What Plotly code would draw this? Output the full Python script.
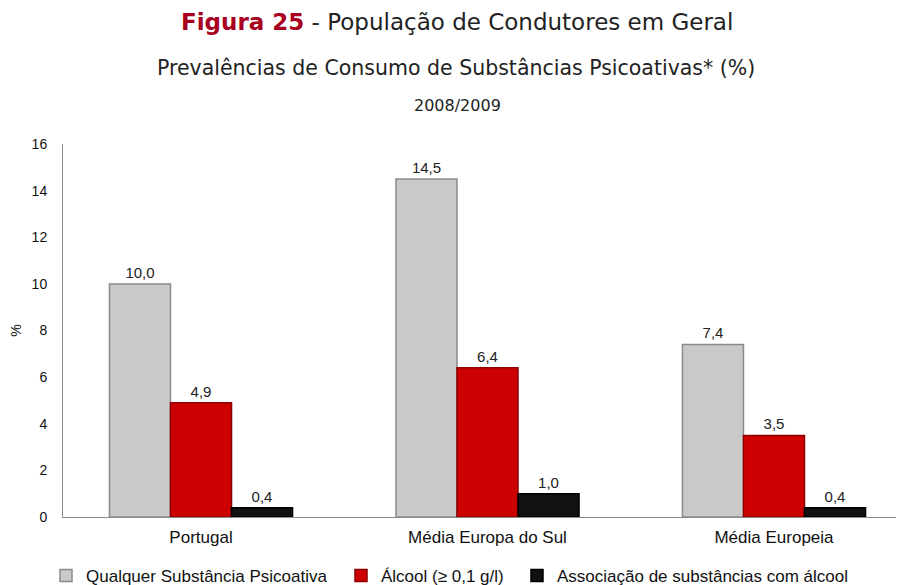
import plotly.graph_objects as go

categories = ["Portugal", "Média Europa do Sul", "Média Europeia"]
series_names = ["Qualquer Substância Psicoativa", "Álcool (≥ 0,1 g/l)", "Associação de substâncias com álcool"]
qualquer = [10.0, 14.5, 7.4]
alcool = [4.9, 6.4, 3.5]
associacao = [0.4, 1.0, 0.4]
y_ticks = [0, 2, 4, 6, 8, 10, 12, 14, 16]

# page body has an 8px margin: figure origin sits at screen (8, 8)
OFF = 8
W, H = 904 - OFF, 585 - OFF
L, R, T = 63 - OFF, 0, 144 - OFF
B = H - (517 - OFF)
pw = W - L - R
ph = H - T - B

def px_x(px):
    return (px - OFF - L) / pw

def px_y(py):
    return (H - B - (py - OFF)) / ph

fills = ["#c9c9c9", "#cc0000", "#111111"]
lines = ["#8a8a8a", "#8e0000", "#000000"]
values = [qualquer, alcool, associacao]
legend_ids = ["legend", "legend2", "legend3"]

fig = go.Figure()
for name, vals, fc, lc, lg in zip(series_names, values, fills, lines, legend_ids):
    fig.add_trace(go.Bar(
        x=categories, y=vals, name=name,
        marker=dict(color=fc, line=dict(color=lc, width=1.5)),
        texttemplate="%{y:.1f}", textposition="outside",
        textfont=dict(family="Liberation Sans, Arial", size=15, color="#222222"),
        cliponaxis=False, legend=lg,
    ))

font_title = "DejaVu Sans"
annotations = [
    dict(text="<b><span style='color:#a8001e'>Figura 25</span></b> - População de Condutores em Geral",
         x=px_x(457), y=px_y(22), xref="paper", yref="paper", showarrow=False,
         xanchor="center", yanchor="middle",
         font=dict(family=font_title, size=23, color="#222222")),
    dict(text="Prevalências de Consumo de Substâncias Psicoativas* (%)",
         x=px_x(456), y=px_y(68), xref="paper", yref="paper", showarrow=False,
         xanchor="center", yanchor="middle",
         font=dict(family=font_title, size=20.5, color="#222222")),
    dict(text="2008/2009",
         x=px_x(457), y=px_y(106), xref="paper", yref="paper", showarrow=False,
         xanchor="center", yanchor="middle",
         font=dict(family=font_title, size=16, color="#222222")),
]

leg_common = dict(orientation="h", yanchor="middle", xanchor="left",
                  bgcolor="rgba(0,0,0,0)", borderwidth=0,
                  font=dict(family="Liberation Sans, Arial", size=17, color="#111111"))
leg_y = px_y(576)

fig.update_layout(
    width=W, height=H,
    margin=dict(l=L, r=R, t=T, b=B, autoexpand=False),
    paper_bgcolor="white", plot_bgcolor="white",
    separators=",.",
    barmode="group", bargap=0.361, bargroupgap=0,
    showlegend=True,
    legend=dict(x=px_x(46), y=leg_y, **leg_common),
    legend2=dict(x=px_x(341), y=leg_y, **leg_common),
    legend3=dict(x=px_x(517), y=leg_y, **leg_common),
    annotations=annotations,
    xaxis=dict(range=[-0.4817, 2.4538], showline=True, linecolor="#8c8c8c", linewidth=1,
               showgrid=False, ticks="", zeroline=False, ticklabelstandoff=5,
               tickfont=dict(family="Liberation Sans, Arial", size=17, color="#111111")),
    yaxis=dict(range=[0, 16], tickvals=y_ticks, showline=True, linecolor="#8c8c8c", linewidth=1,
               showgrid=False, zeroline=False, ticks="", ticklabelstandoff=12,
               tickfont=dict(family="Liberation Sans, Arial", size=14, color="#111111"),
               title=dict(text="%", standoff=14,
                          font=dict(family="Liberation Sans, Arial", size=14, color="#111111"))),
)

fig.write_html("out.html")
